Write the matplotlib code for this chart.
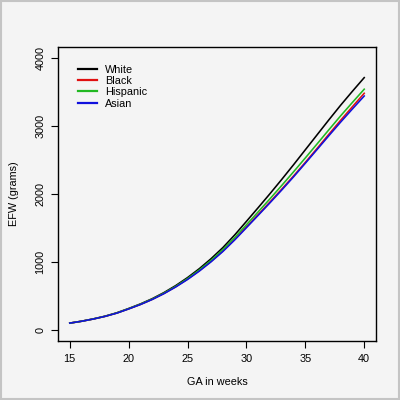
import matplotlib
matplotlib.use("Agg")
import matplotlib.pyplot as plt
from matplotlib.patches import Rectangle

weeks = list(range(15, 41))
white = [103,131,165,205,255,318,385,462,552,655,772,903,1050,1213,1398,1598,
         1800,2005,2215,2430,2650,2870,3090,3305,3510,3710]
black = [103,130,163,202,251,312,377,452,539,638,750,874,1012,1164,1334,1516,
         1698,1883,2072,2265,2465,2670,2878,3084,3283,3480]
hispanic = [103,130,164,203,252,314,380,455,543,643,757,884,1026,1183,1359,1548,
            1738,1930,2126,2326,2530,2736,2944,3149,3346,3540]
asian = [103,130,163,202,250,311,376,450,536,634,744,867,1004,1155,1324,1505,
         1687,1871,2059,2252,2452,2654,2857,3057,3250,3440]

series_names = ["White", "Black", "Hispanic", "Asian"]
series_colors = ["#000000", "#e01010", "#22b822", "#1010dd"]
x_ticks = [15, 20, 25, 30, 35, 40]
y_ticks = [0, 1000, 2000, 3000, 4000]

plt.rcParams['font.family'] = ['Liberation Sans', 'DejaVu Sans']
bg = "#f4f4f4"
fig = plt.figure(figsize=(4, 4), dpi=100, facecolor=bg)
fig.patches.append(Rectangle((0.002, 0.002), 0.996, 0.996, transform=fig.transFigure,
                             fill=False, edgecolor="#c4c4c4", lw=1.5))
ax = fig.add_axes([0.145, 0.1475, 0.795, 0.735], facecolor=bg)

for vals, name, col in zip([white, black, hispanic, asian], series_names, series_colors):
    ax.plot(weeks, vals, color=col, lw=1.15, label=name)

ax.set_xlim(14, 41)
ax.set_ylim(-160, 4160)
ax.set_xticks(x_ticks)
ax.set_yticks(y_ticks)
ax.set_xticklabels([str(t) for t in x_ticks], fontsize=7.8)
ax.set_yticklabels([str(t) for t in y_ticks], fontsize=7.8, rotation=90, va="center")
ax.tick_params(length=5, width=0.8, pad=4)
for s in ax.spines.values():
    s.set_linewidth(1.0)
ax.set_xlabel("GA in weeks", fontsize=7.8, labelpad=10)
ax.set_ylabel("EFW (grams)", fontsize=7.8, labelpad=12)

leg = ax.legend(loc="upper left", bbox_to_anchor=(0.064, 0.94), frameon=False,
                fontsize=7.8, handlelength=1.7, handletextpad=0.75,
                labelspacing=0.12, borderaxespad=0, borderpad=0)
for h in leg.get_lines():
    h.set_linewidth(1.6)

fig.savefig("out.png", dpi=100, facecolor=bg)
